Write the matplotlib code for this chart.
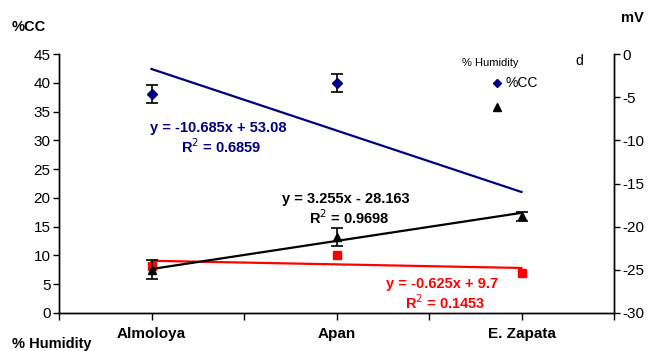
import matplotlib.pyplot as plt
from matplotlib.lines import Line2D

plt.rcParams['font.family'] = ['Liberation Sans', 'DejaVu Sans']
plt.rcParams['axes.unicode_minus'] = False

# data
sites = ["Almoloya", "Apan", "E. Zapata"]
cc_x = [1, 2]
cc_vals = [38.0, 40.0]
cc_err = [1.6, 1.6]
hum_vals = [8.2, 10.1, 7.0]
hum_err = [0.4, 0.3, 0.3]
mv_vals = [-25.0, -21.2, -18.8]
mv_err = [1.1, 1.0, 0.5]

# trendline coefficients (slope, intercept) and R^2 as printed
cc_fit = (-10.685, 53.08, 0.6859)
mv_fit = (3.255, -28.163, 0.9698)
hum_fit = (-0.625, 9.7, 0.1453)

BLUE = "#000080"
RED = "#FF0000"

fig = plt.figure(figsize=(6.6, 3.51), dpi=100)
ax = fig.add_axes([59/660, 1 - 313/351, 555/660, 259/351])
ax2 = ax.twinx()

x = [1, 2, 3]

# trendlines
ax.plot(x, [cc_fit[0]*i + cc_fit[1] for i in x], color=BLUE, lw=1.6, zorder=2)
ax.plot(x, [hum_fit[0]*i + hum_fit[1] for i in x], color=RED, lw=1.6, zorder=2)
ax2.plot(x, [mv_fit[0]*i + mv_fit[1] for i in x], color="black", lw=1.6, zorder=2)

# points
ax.errorbar(cc_x, cc_vals, yerr=cc_err, fmt="D", color=BLUE, ms=5,
            ecolor="black", elinewidth=1.2, capsize=4, capthick=1.2, zorder=3)
ax.errorbar(x, hum_vals, yerr=hum_err, fmt="s", color=RED, ms=6,
            ecolor="black", elinewidth=1.0, capsize=3, capthick=1.0, zorder=3)
ax2.errorbar(x, mv_vals, yerr=mv_err, fmt="^", color="black", ms=6,
             ecolor="black", elinewidth=1.2, capsize=4, capthick=1.2, zorder=3)

# axes
ax.set_xlim(0.5, 3.5)
ax.set_ylim(0, 45)
ax.set_yticks(range(0, 46, 5))
ax2.set_ylim(-30, 0)
ax2.set_yticks(range(-30, 1, 5))
ax.set_xticks(x)
ax.set_xticklabels(sites, fontsize=11, fontweight="bold")
ax.set_xticks([0.5, 1.5, 2.5, 3.5], minor=True)
ax.tick_params(axis="x", which="both", direction="out", length=5, width=1,
               pad=5)
ax.tick_params(axis="y", direction="out", length=4, width=1, labelsize=11, pad=2)
ax2.tick_params(axis="y", direction="out", length=4, width=1, labelsize=11, pad=2)
for a in (ax, ax2):
    a.spines["top"].set_visible(False)
    for s in ("left", "right", "bottom"):
        a.spines[s].set_linewidth(1.0)

# axis titles
fig.text(12/660, 1 - 27/351, "%CC", fontsize=10.5, fontweight="bold",
         ha="left", va="center")
fig.text(621/660, 1 - 18/351, "mV", fontsize=10.5, fontweight="bold",
         ha="left", va="center")
fig.text(12/660, 1 - 344/351, "% Humidity", fontsize=10.5, fontweight="bold",
         ha="left", va="center")

# trendline equations
def eq(xd, yd, fit, color):
    sign = "+" if fit[1] >= 0 else "-"
    fig.text(xd/660, 1 - yd/351,
             f"y = {fit[0]:g}x {sign} {abs(fit[1]):g}",
             color=color, fontsize=10.5, fontweight="bold", ha="center", va="center")
    fig.text((xd + 3)/660, 1 - (yd + 19)/351,
             f"R$^2$ = {fit[2]:.4f}",
             color=color, fontsize=10.5, fontweight="bold", ha="center", va="center")

eq(218, 128, cc_fit, BLUE)
eq(346, 199, mv_fit, "black")
eq(442, 284, hum_fit, RED)

# partial legend
fig.text(462/660, 1 - 63/351, "% Humidity", fontsize=8, ha="left", va="center")
fig.add_artist(Line2D([497/660], [1 - 83/351], marker="D", color=BLUE, ms=4.5,
                      transform=fig.transFigure))
fig.text(505/660, 1 - 83/351, "%CC", fontsize=10, ha="left", va="center")
fig.add_artist(Line2D([497/660], [1 - 107/351], marker="^", color="black", ms=6,
                      transform=fig.transFigure))
fig.text(575/660, 1 - 61/351, "d", fontsize=10, ha="left", va="center")

fig.savefig("out.png", dpi=100)
